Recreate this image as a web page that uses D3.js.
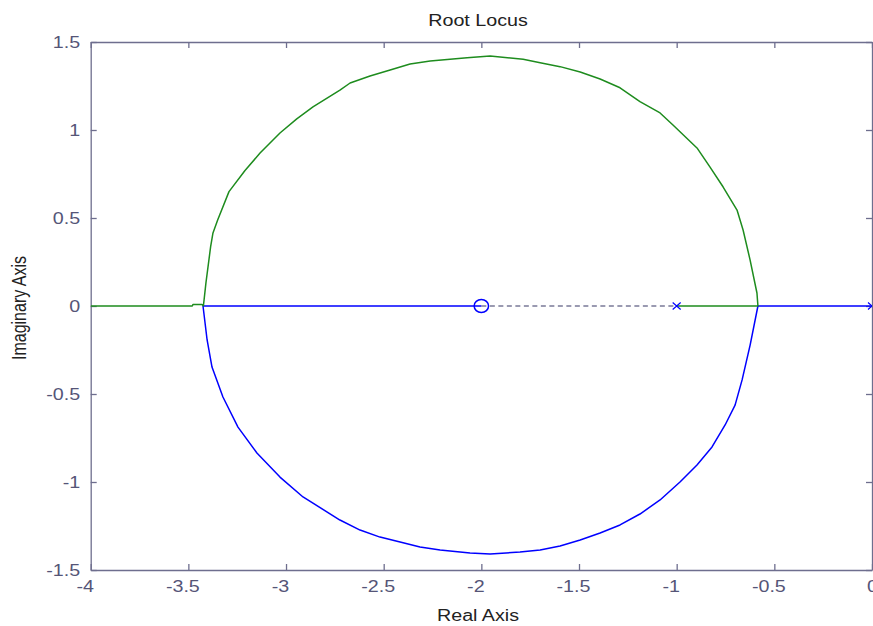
<!DOCTYPE html>
<html><head><meta charset="utf-8">
<script src="https://cdn.jsdelivr.net/npm/d3@7"></script>
<style>body{margin:0;background:#fff;}svg{display:block;}</style>
</head><body>
<script>
// ---- data ----
const xTicks = [-4, -3.5, -3, -2.5, -2, -1.5, -1, -0.5, 0];
const yTicks = [-1.5, -1, -0.5, 0, 0.5, 1, 1.5];
const poles = [[-1, 0], [0, 0]];
const zeros = [[-2, 0]];
// branch 2 (green): from pole -1 right to breakaway, up over the upper arc, then left along the axis
const greenRe = [-1, -0.584, -0.589, -0.624, -0.660, -0.691, -0.762, -0.830, -0.896, -1.019, -1.085, -1.188, -1.290, -1.392, -1.494, -1.597, -1.699, -1.786, -1.955, -2.073, -2.262, -2.365, -2.467, -2.570, -2.672, -2.724, -2.862, -2.945, -3.031, -3.133, -3.210, -3.292, -3.350, -3.374, -3.386, -3.410, -3.423, -3.430, -3.476, -3.480, -4];
const greenIm = [0, 0, 0.074, 0.261, 0.432, 0.545, 0.676, 0.790, 0.898, 1.028, 1.097, 1.161, 1.240, 1.290, 1.330, 1.360, 1.382, 1.402, 1.420, 1.411, 1.392, 1.375, 1.341, 1.307, 1.267, 1.227, 1.131, 1.063, 0.983, 0.869, 0.770, 0.650, 0.489, 0.415, 0.337, 0.131, 0, 0.009, 0.009, 0, 0];
// branch 1 (blue): from pole 0 left to breakaway, down the lower arc, then right along the axis to the zero
const blueRe = [0, -0.584, -0.624, -0.665, -0.701, -0.752, -0.819, -0.896, -0.983, -1.085, -1.188, -1.290, -1.392, -1.494, -1.597, -1.699, -1.802, -1.955, -2.058, -2.211, -2.314, -2.416, -2.519, -2.621, -2.724, -2.913, -3.031, -3.149, -3.246, -3.323, -3.379, -3.404, -3.425, -2];
const blueIm = [0, 0, -0.222, -0.420, -0.563, -0.676, -0.801, -0.903, -1.000, -1.102, -1.182, -1.244, -1.290, -1.330, -1.364, -1.386, -1.398, -1.409, -1.403, -1.386, -1.369, -1.341, -1.313, -1.273, -1.216, -1.085, -0.972, -0.835, -0.688, -0.517, -0.347, -0.193, 0, 0];
// dashed segment on the real axis
const dashRe = [-2, -1];
const dashIm = [0, 0];

// ---- drawing ----
const W = 873, H = 626;
const L = 90.7, R = 872, T = 42, B = 570;
const SX = 1.23; // horizontal text stretch
const axisCol = "#6e6e8e", labelCol = "#555577";
const font = "'Liberation Sans', Arial, sans-serif";

const svg = d3.select("body").append("svg").attr("width", W).attr("height", H);
const x = d3.scaleLinear().domain([-4, 0]).range([L, R]);
const y = d3.scaleLinear().domain([-1.5, 1.5]).range([B, T]);

svg.append("defs").append("clipPath").attr("id", "clip")
  .append("rect").attr("x", L).attr("y", T).attr("width", R - L).attr("height", B - T);

const fmt = d => String(d);

function styleAxis(g) {
  g.selectAll("path.domain").attr("stroke", axisCol).attr("stroke-width", 1.3);
  g.selectAll(".tick line").attr("stroke", axisCol).attr("stroke-width", 1.3);
  g.selectAll("text").attr("fill", labelCol).style("font-family", font).style("font-size", "16px");
}

const gB = svg.append("g").attr("transform", `translate(0,${B})`)
  .call(d3.axisBottom(x).tickValues(xTicks).tickFormat(fmt).tickSizeInner(-6).tickSizeOuter(0));
styleAxis(gB);
gB.selectAll(".tick text")
  .attr("y", 11).attr("dy", "0.71em")
  .attr("x", d => (d < 0 ? -6 : 0) / SX)
  .attr("transform", `scale(${SX},1)`);

const gT = svg.append("g").attr("transform", `translate(0,${T})`)
  .call(d3.axisTop(x).tickValues(xTicks).tickFormat("").tickSizeInner(-6).tickSizeOuter(0));
styleAxis(gT);

const gL = svg.append("g").attr("transform", `translate(${L},0)`)
  .call(d3.axisLeft(y).tickValues(yTicks).tickFormat(fmt).tickSizeInner(-6).tickSizeOuter(0));
styleAxis(gL);
gL.selectAll(".tick text")
  .attr("x", -10.5 / SX).attr("dy", "0.36em")
  .attr("transform", `scale(${SX},1)`);

const gR = svg.append("g").attr("transform", `translate(${R},0)`)
  .call(d3.axisRight(y).tickValues(yTicks).tickFormat("").tickSizeInner(-6).tickSizeOuter(0));
styleAxis(gR);

// plot content
const plot = svg.append("g").attr("clip-path", "url(#clip)");
const line = d3.line().x(d => x(d[0])).y(d => y(d[1]));

plot.append("path").datum(d3.zip(dashRe, dashIm)).attr("d", line)
  .attr("fill", "none").attr("stroke", "#7a7a98").attr("stroke-width", 1.3)
  .attr("stroke-dasharray", "5,3.5");

plot.append("path").datum(d3.zip(blueRe, blueIm)).attr("d", line)
  .attr("fill", "none").attr("stroke", "#0000ff").attr("stroke-width", 1.5)
  .attr("stroke-linejoin", "round");

plot.append("path").datum(d3.zip(greenRe, greenIm)).attr("d", line)
  .attr("fill", "none").attr("stroke", "#1e8c1e").attr("stroke-width", 1.5)
  .attr("stroke-linejoin", "round");

// zeros
plot.selectAll("ellipse.zero").data(zeros).enter().append("ellipse")
  .attr("cx", d => x(d[0])).attr("cy", d => y(d[1]))
  .attr("rx", 7.2).attr("ry", 6.5)
  .attr("fill", "none").attr("stroke", "#0000ff").attr("stroke-width", 1.5);

// poles
const px = plot.selectAll("g.pole").data(poles).enter().append("g")
  .attr("transform", d => `translate(${x(d[0])},${y(d[1])})`);
px.append("path").attr("d", "M-4,-3.5L4,3.5M-4,3.5L4,-3.5")
  .attr("stroke", "#0000ff").attr("stroke-width", 1.2).attr("fill", "none");

// titles
svg.append("text").text("Root Locus")
  .attr("transform", `translate(478,26) scale(${SX},1)`)
  .attr("text-anchor", "middle").attr("fill", "#222")
  .style("font-family", font).style("font-size", "16px");

svg.append("text").text("Real Axis")
  .attr("transform", `translate(478,621) scale(${SX},1)`)
  .attr("text-anchor", "middle").attr("fill", "#222")
  .style("font-family", font).style("font-size", "16px");

svg.append("text").text("Imaginary Axis")
  .attr("transform", `translate(26,308) scale(${SX},1) rotate(-90)`)
  .attr("text-anchor", "middle").attr("fill", "#222")
  .style("font-family", font).style("font-size", "16px");
</script>
</body></html>
